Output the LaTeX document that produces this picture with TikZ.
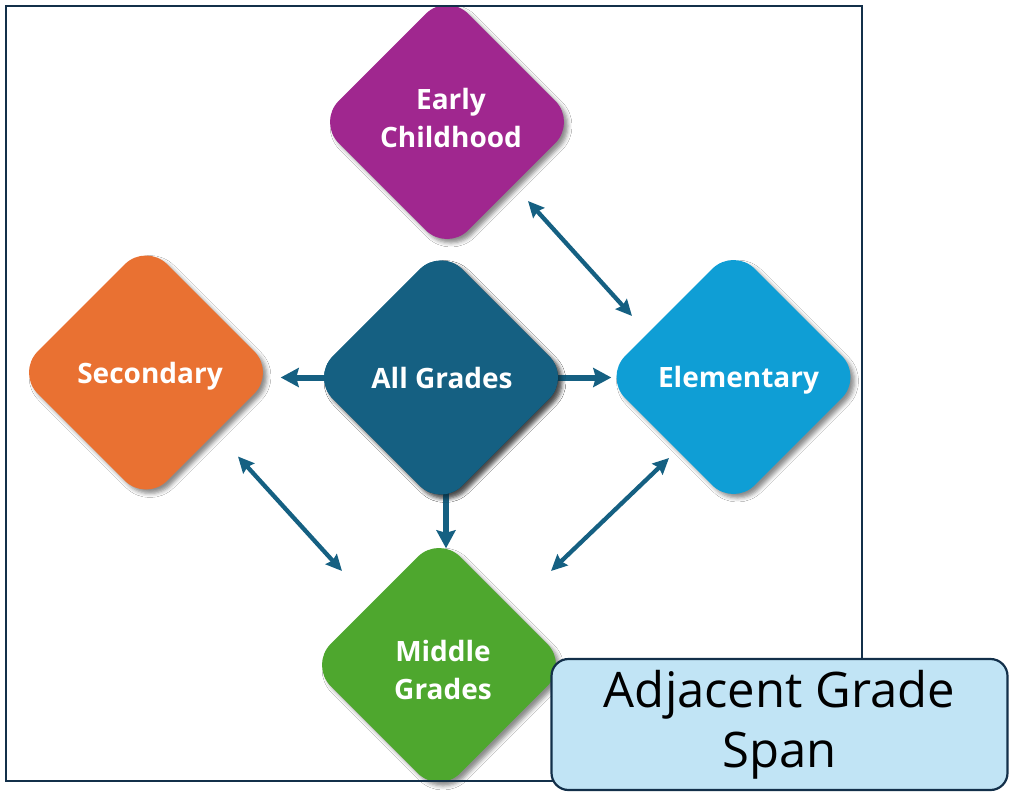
\documentclass[tikz,border=0pt]{standalone}
\usepackage{fontspec}
\setmainfont{Open Sans}
\usetikzlibrary{shapes.geometric,arrows.meta,calc,shadows.blur}
\definecolor{cpurple}{HTML}{A0278F}
\definecolor{corange}{HTML}{E97132}
\definecolor{cteal}{HTML}{156082}
\definecolor{cblue}{HTML}{0F9ED5}
\definecolor{cgreen}{HTML}{4EA72E}
\definecolor{carrow}{HTML}{156082}
\definecolor{cnavy}{HTML}{13304A}
\definecolor{clight}{HTML}{C1E4F5}
\tikzset{
  gem/.style={diamond, aspect=1, inner sep=0pt, minimum width=259pt, minimum height=259pt,
    rounded corners=30pt, fill=#1,
    blur shadow={shadow xshift=4pt, shadow yshift=-4pt, shadow blur radius=4pt, shadow opacity=45}},
  gemtext/.style={text=white, font=\bfseries\fontsize{28}{38}\selectfont, align=center, inner sep=0pt},
  onearrow/.style={draw=carrow, line width=6pt, -{Stealth[inset=2.5pt,length=18pt,width=19pt]}},
  twoarrow/.style={draw=carrow, line width=4.3pt, {Stealth[inset=2pt,length=16pt,width=15pt]}-{Stealth[inset=2pt,length=16pt,width=15pt]}},
}
\begin{document}
\begin{tikzpicture}[x=1pt,y=-1pt]
\useasboundingbox (0,0) rectangle (1009,793);
\fill[white] (0,0) rectangle (1009,793);
% diamonds
\node[gem=cpurple] (ec) at (447,122) {};
\node[gem=corange] (sec) at (146,372.5) {};
\node[gem=cteal] (ag) at (441,377.5) {};
\node[gem=cblue] (el) at (733.5,377) {};
\node[gem=cgreen] (mg) at (439,665) {};
% arrow end points
\coordinate (a1s) at ($(ec.center)+(81,79)$);
\coordinate (a1e) at ($(el.center)+(-101.5,-61)$);
\coordinate (a2s) at ($(sec.center)+(92,84)$);
\coordinate (a2e) at ($(mg.center)+(-97,-94)$);
\coordinate (a3s) at ($(el.center)+(-64.5,81)$);
\coordinate (a3e) at ($(mg.center)+(112,-94)$);
\coordinate (agL) at ($(ag.center)+(-112,0)$);
\coordinate (agR) at ($(ag.center)+(112,0)$);
\coordinate (agB) at ($(ag.center)+(5,112)$);
\coordinate (secR) at ($(sec.east |- ag.center)+(5,0)$);
\coordinate (elL) at ($(el.west |- ag.center)+(7.5,0)$);
\coordinate (mgT) at ($(mg.north -| agB)+(0,13)$);
% arrows
\draw[twoarrow] (a1s) -- (a1e);
\draw[twoarrow] (a2s) -- (a2e);
\draw[twoarrow] (a3s) -- (a3e);
\draw[onearrow] (agL) -- (secR);
\draw[onearrow] (agR) -- (elL);
\draw[onearrow] (agB) -- (mgT);
% redraw center diamond over arrow starts
\node[gem=cteal] (ag2) at (ag.center) {};
% texts
\node[gemtext] (ect) at ($(ec.center)+(4,-4)$) {Early\\Childhood};
\node[gemtext] (sect) at ($(sec.center)+(4,4)$) {Secondary};
\node[gemtext] (agt) at ($(ag.center)+(1,0)$) {All Grades};
\node[gemtext] (elt) at ($(el.center)+(5,3)$) {Elementary};
\node[gemtext] (mgt) at ($(mg.center)+(4,5)$) {Middle\\Grades};
% frame
\node[draw=cnavy, line width=1.8pt, inner sep=0pt, minimum width=856pt, minimum height=775pt] (frame) at (434,393.5) {};
% label box
\node[draw=cnavy, line width=2.2pt, fill=clight, rounded corners=17pt, inner sep=0pt,
  minimum width=456pt, minimum height=131pt, align=center,
  font=\fontsize{49}{60}\selectfont] (lbl) at (779.5,724.5) {Adjacent Grade\\Span};
\end{tikzpicture}
\end{document}
